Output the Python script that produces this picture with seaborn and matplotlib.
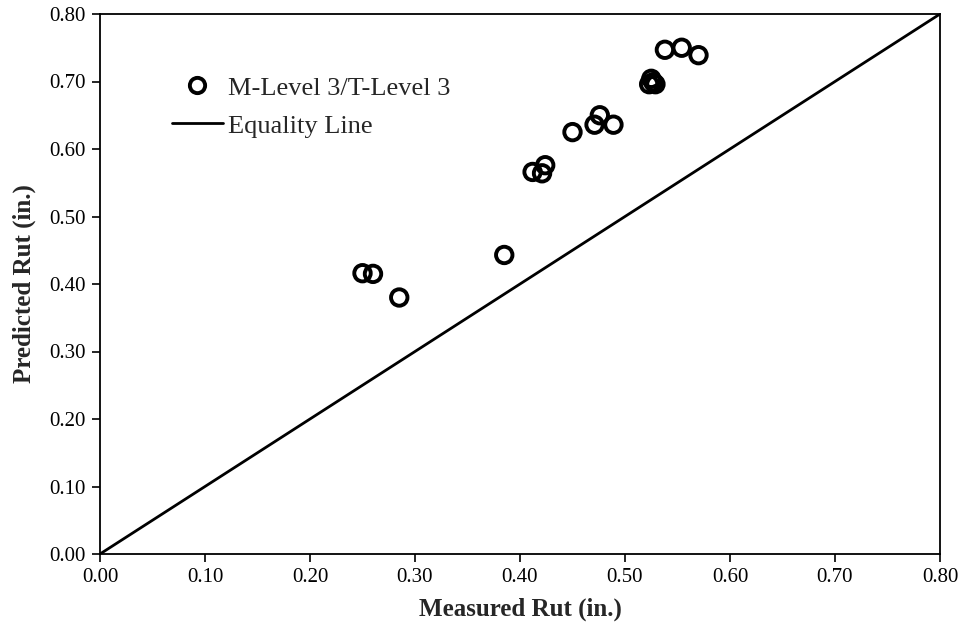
import matplotlib
matplotlib.use("Agg")
import matplotlib.pyplot as plt
import seaborn as sns
import pandas as pd
from matplotlib.lines import Line2D

measured = [0.250, 0.260, 0.285, 0.385, 0.412, 0.421, 0.424, 0.450, 0.471, 0.476, 0.489,
            0.523, 0.525, 0.527, 0.529, 0.538, 0.554, 0.570]
predicted = [0.416, 0.415, 0.380, 0.443, 0.566, 0.564, 0.576, 0.625, 0.636, 0.650, 0.636,
             0.696, 0.704, 0.699, 0.696, 0.747, 0.750, 0.739]
equality_x = [0.0, 0.8]
equality_y = [0.0, 0.8]
ticks = [0.0, 0.1, 0.2, 0.3, 0.4, 0.5, 0.6, 0.7, 0.8]
series_label = "M-Level 3/T-Level 3"
line_label = "Equality Line"

sns.set_style("white")
plt.rcParams['font.family'] = ['Liberation Serif', 'DejaVu Serif']

fig = plt.figure(figsize=(9.7, 6.32), dpi=100)
ax = fig.add_axes([100 / 970, 1 - 554 / 632, 840 / 970, 540 / 632])

df = pd.DataFrame({"Measured": measured, "Predicted": predicted})
sns.scatterplot(data=df, x="Measured", y="Predicted", ax=ax, marker="o", s=140,
                facecolor="none", edgecolor="black", linewidth=2.8, zorder=3)
eq = pd.DataFrame({"x": equality_x, "y": equality_y})
sns.lineplot(data=eq, x="x", y="y", ax=ax, color="black", linewidth=2.0, zorder=2)

ax.set_xlim(0, 0.8)
ax.set_ylim(0, 0.8)
ax.set_xticks(ticks)
ax.set_yticks(ticks)
ax.set_xticklabels([f"{t:.2f}" for t in ticks], fontsize=15)
ax.set_yticklabels([f"{t:.2f}" for t in ticks], fontsize=15)
ax.tick_params(direction="out", length=6, width=1.2, colors="black", pad=4,
               bottom=True, left=True)
for s in ax.spines.values():
    s.set_color("black")
    s.set_linewidth(1.3)
ax.set_xlabel("Measured Rut (in.)", fontsize=18, fontweight="bold", labelpad=8)
ax.set_ylabel("Predicted Rut (in.)", fontsize=18, fontweight="bold", labelpad=10)

handles = [Line2D([], [], marker="o", linestyle="none", markerfacecolor="none",
                  markeredgecolor="black", markeredgewidth=2.8, markersize=11),
           Line2D([], [], color="black", linewidth=2.0)]
ax.legend(handles, [series_label, line_label], loc="upper left",
          bbox_to_anchor=(0.0857, 0.885), frameon=False, fontsize=19,
          borderpad=0, borderaxespad=0,
          handlelength=1.93, handletextpad=0.19, labelspacing=0.55)

fig.savefig("out.png", dpi=100)
